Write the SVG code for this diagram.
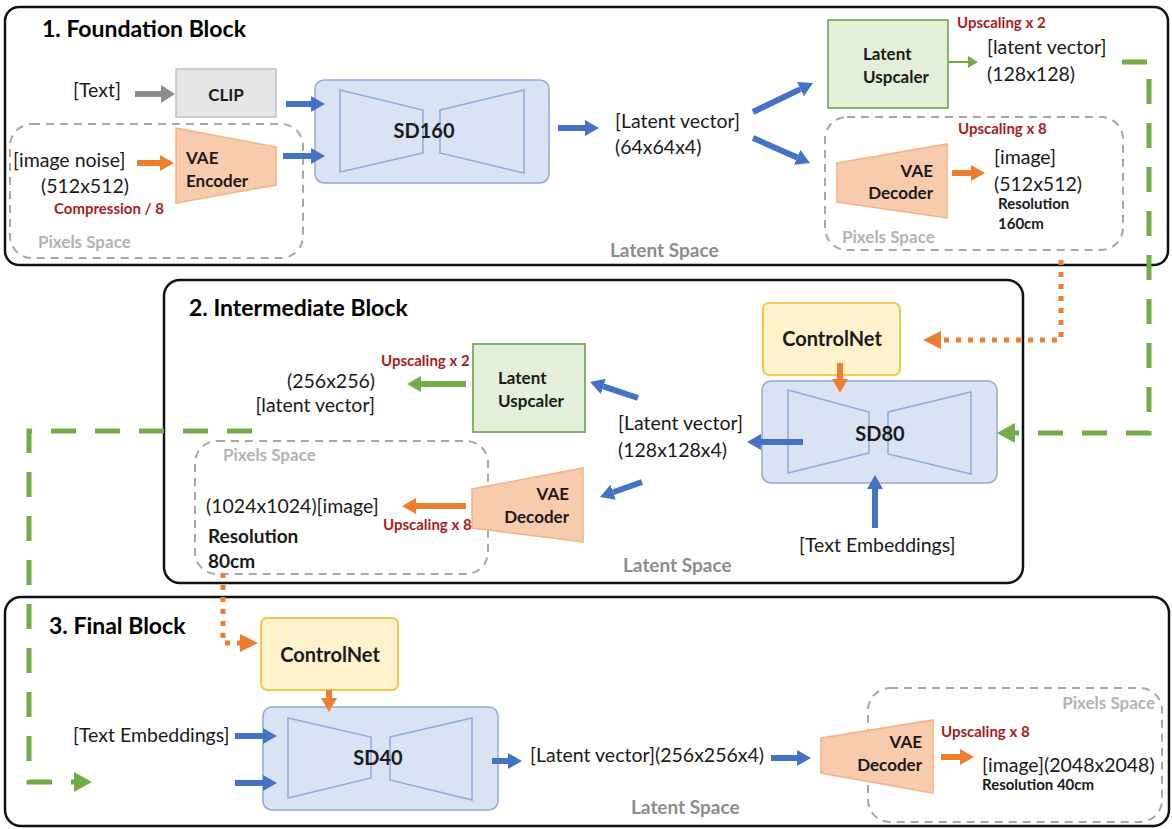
<svg xmlns="http://www.w3.org/2000/svg" width="1172" height="829" viewBox="0 0 1172 829">
<defs>
<style>
text{font-family:Lato,"Liberation Sans",sans-serif;fill:#1a1a1a}
.t{font-size:19.5px}
.b{font-weight:bold}
.title{font-size:23px;font-weight:bold;fill:#000}
.node{font-size:17px;font-weight:bold}
.big{font-size:20px;font-weight:bold}
.red{font-size:15px;font-weight:bold;fill:#a81d1d}
.px{font-size:17px;font-weight:bold;fill:#b3b3b3}
.ls{font-size:19px;font-weight:bold;fill:#8c8c8c}
.blk{fill:#fff;stroke:#111;stroke-width:2.5}
.dash{fill:none;stroke:#a6a6a6;stroke-width:2;stroke-dasharray:8 6}
.sd{fill:#dae3f3;stroke:#8faadc;stroke-width:1.5}
.trap{fill:none;stroke:#8faadc;stroke-width:1.5}
.up{fill:#e2f0d9;stroke:#82b366;stroke-width:2}
.vae{fill:#f8cbad;stroke:#f4b183;stroke-width:1.5}
.cn{fill:#fff2cc;stroke:#f2c94c;stroke-width:2}
.clip{fill:#e7e6e6;stroke:#c0c0c0;stroke-width:1.5}
.ab{fill:none;stroke:#4472c4;stroke-width:6;marker-end:url(#hb)}
.ao{fill:none;stroke:#ed7d31;stroke-width:6;marker-end:url(#ho)}
.ag{fill:none;stroke:#8c8c8c;stroke-width:6;marker-end:url(#hg)}
.agr{fill:none;stroke:#70ad47;stroke-width:6;marker-end:url(#hgr)}
.agt{fill:none;stroke:#70ad47;stroke-width:2;marker-end:url(#hgt)}
.dot{fill:none;stroke:#ed7d31;stroke-width:5;stroke-dasharray:5 7;marker-end:url(#hod)}
.gd{fill:none;stroke:#70ad47;stroke-width:5;stroke-dasharray:25 19;marker-end:url(#hgd)}
</style>
<marker id="hb" viewBox="0 0 14 16" refX="0" refY="8" markerWidth="14" markerHeight="16" markerUnits="userSpaceOnUse" orient="auto"><path d="M0,0 L14,8 L0,16 z" fill="#4472c4"/></marker>
<marker id="ho" viewBox="0 0 14 16" refX="0" refY="8" markerWidth="14" markerHeight="16" markerUnits="userSpaceOnUse" orient="auto"><path d="M0,0 L14,8 L0,16 z" fill="#ed7d31"/></marker>
<marker id="hg" viewBox="0 0 14 18" refX="0" refY="9" markerWidth="14" markerHeight="18" markerUnits="userSpaceOnUse" orient="auto"><path d="M0,0 L14,9 L0,18 z" fill="#8c8c8c"/></marker>
<marker id="hgr" viewBox="0 0 14 16" refX="0" refY="8" markerWidth="14" markerHeight="16" markerUnits="userSpaceOnUse" orient="auto"><path d="M0,0 L14,8 L0,16 z" fill="#70ad47"/></marker>
<marker id="hgt" viewBox="0 0 10 12" refX="0" refY="6" markerWidth="10" markerHeight="12" markerUnits="userSpaceOnUse" orient="auto"><path d="M0,0 L10,6 L0,12 z" fill="#70ad47"/></marker>
<marker id="hod" viewBox="0 0 18 18" refX="0" refY="9" markerWidth="18" markerHeight="18" markerUnits="userSpaceOnUse" orient="auto"><path d="M0,0 L18,9 L0,18 z" fill="#ed7d31"/></marker>
<marker id="hgd" viewBox="0 0 18 20" refX="0" refY="10" markerWidth="18" markerHeight="20" markerUnits="userSpaceOnUse" orient="auto"><path d="M0,0 L18,10 L0,20 z" fill="#70ad47"/></marker>
</defs>
<rect width="1172" height="829" fill="#fff"/>

<g id="block1">
<rect class="blk" x="5" y="7" width="1163" height="258" rx="14"/>
<text class="title" x="42" y="37">1. Foundation Block</text>
<rect class="dash" x="10" y="124" width="293" height="134" rx="22"/>
<text class="px" x="38" y="248">Pixels Space</text>
<rect class="dash" x="825" y="117" width="298" height="133" rx="22"/>
<text class="px" x="842" y="243">Pixels Space</text>
<text class="ls" x="610" y="257">Latent Space</text>
</g>

<g id="text-in">
<text class="t" x="73" y="97">[Text]</text>
</g>
<g id="clip">
<rect class="clip" x="176" y="69" width="100" height="48"/>
<text class="node" x="226" y="101" text-anchor="middle">CLIP</text>
</g>
<g id="image-noise">
<text class="t" x="13" y="167">[image noise]</text>
<text class="t" x="41" y="193">(512x512)</text>
<text class="red" x="54" y="214">Compression / 8</text>
</g>
<g id="vae-encoder">
<polygon class="vae" points="176,128 276,147 276,185 176,203"/>
<text class="node" x="186" y="164">VAE</text>
<text class="node" x="186" y="187">Encoder</text>
</g>
<g id="sd160">
<rect class="sd" x="315" y="80" width="234" height="103" rx="9"/>
<polygon class="trap" points="340,90 423,110 423,153 340,172"/>
<polygon class="trap" points="440,110 524,90 524,173 440,153"/>
<text class="big" x="424" y="138" text-anchor="middle">SD160</text>
</g>
<g id="latent1">
<text class="t" x="615" y="128">[Latent vector]</text>
<text class="t" x="615" y="154">(64x64x4)</text>
</g>
<g id="upscaler1">
<rect class="up" x="828" y="20" width="120" height="88"/>
<text class="node" x="863" y="60">Latent</text>
<text class="node" x="863" y="83">Uspcaler</text>
<text class="red" x="957" y="28">Upscaling x 2</text>
</g>
<g id="latent128">
<text class="t" x="987" y="54">[latent vector]</text>
<text class="t" x="987" y="81">(128x128)</text>
</g>
<g id="decoder1">
<polygon class="vae" points="837,163 947,144 947,218 837,202"/>
<text class="node" x="933" y="177" text-anchor="end">VAE</text>
<text class="node" x="933" y="199" text-anchor="end">Decoder</text>
<text class="red" x="958" y="134">Upscaling x 8</text>
</g>
<g id="image512">
<text class="t" x="994" y="164">[image]</text>
<text class="t" x="994" y="191">(512x512)</text>
<text class="b" x="998" y="209" font-size="15">Resolution</text>
<text class="b" x="998" y="229" font-size="15">160cm</text>
</g>

<g id="block2">
<rect class="blk" x="164" y="280" width="859" height="303" rx="16"/>
<text class="title" x="189" y="316">2. Intermediate Block</text>
<rect class="dash" x="195" y="441" width="293" height="133" rx="22"/>
<text class="px" x="223" y="461">Pixels Space</text>
<text class="ls" x="623" y="572">Latent Space</text>
</g>
<g id="controlnet2">
<rect class="cn" x="763" y="303" width="137" height="72" rx="6"/>
<text class="b" x="832" y="346" font-size="20" text-anchor="middle">ControlNet</text>
</g>
<g id="sd80">
<rect class="sd" x="762" y="381" width="235" height="102" rx="9"/>
<polygon class="trap" points="788,390 869,412 869,453 788,473"/>
<polygon class="trap" points="888,412 971,392 971,474 888,454"/>
<text class="big" x="880" y="441" text-anchor="middle">SD80</text>
</g>
<g id="textemb2">
<text class="t" x="799" y="552">[Text Embeddings]</text>
</g>
<g id="latent2">
<text class="t" x="618" y="430">[Latent vector]</text>
<text class="t" x="618" y="457">(128x128x4)</text>
</g>
<g id="upscaler2">
<rect class="up" x="473" y="344" width="112" height="88"/>
<text class="node" x="498" y="384">Latent</text>
<text class="node" x="498" y="407">Uspcaler</text>
<text class="red" x="381" y="366">Upscaling x 2</text>
</g>
<g id="latent256">
<text class="t" x="375" y="388" text-anchor="end">(256x256)</text>
<text class="t" x="375" y="412" text-anchor="end">[latent vector]</text>
</g>
<g id="decoder2">
<polygon class="vae" points="472,489 583,468 583,542 472,528"/>
<text class="node" x="569" y="500" text-anchor="end">VAE</text>
<text class="node" x="569" y="523" text-anchor="end">Decoder</text>
<text class="red" x="383" y="530">Upscaling x 8</text>
</g>
<g id="image1024">
<text class="t" x="206" y="513">(1024x1024)[image]</text>
<text class="b" x="208" y="543" font-size="19">Resolution</text>
<text class="b" x="208" y="568" font-size="19">80cm</text>
</g>

<g id="block3">
<rect class="blk" x="5" y="597" width="1164" height="229" rx="16"/>
<text class="title" x="49" y="634">3. Final Block</text>
<rect class="dash" x="868" y="688" width="294" height="134" rx="22"/>
<text class="px" x="1155" y="709" text-anchor="end">Pixels Space</text>
<text class="ls" x="631" y="814">Latent Space</text>
</g>
<g id="controlnet3">
<rect class="cn" x="261" y="618" width="137" height="72" rx="6"/>
<text class="b" x="330" y="662" font-size="20" text-anchor="middle">ControlNet</text>
</g>
<g id="textemb3">
<text class="t" x="73" y="742">[Text Embeddings]</text>
</g>
<g id="sd40">
<rect class="sd" x="263" y="707" width="235" height="103" rx="9"/>
<polygon class="trap" points="288,718 371,737 371,778 288,798"/>
<polygon class="trap" points="390,737 472,718 472,800 390,780"/>
<text class="big" x="378" y="765" text-anchor="middle">SD40</text>
</g>
<g id="latent3">
<text class="t" x="530" y="762">[Latent vector](256x256x4)</text>
</g>
<g id="decoder3">
<polygon class="vae" points="821,738 933,720 933,793 821,773"/>
<text class="node" x="922" y="748" text-anchor="end">VAE</text>
<text class="node" x="922" y="771" text-anchor="end">Decoder</text>
<text class="red" x="941" y="737">Upscaling x 8</text>
</g>
<g id="image2048">
<text class="t" x="982" y="772">[image](2048x2048)</text>
<text class="b" x="982" y="790" font-size="15">Resolution 40cm</text>
</g>

<g id="connectors">
<path class="ag" d="M135,94 H161"/>
<path class="ao" d="M137,163 H160"/>
<path class="ab" d="M286,104 H311"/>
<path class="ab" d="M283,156 H311"/>
<path class="ab" d="M558,128 H585"/>
<path class="ab" d="M753,112 L800.4,89.1"/>
<path class="ab" d="M753,138 L797.2,157.4"/>
<path class="agt" d="M948,62 H968"/>
<path class="ao" d="M952,173 H971"/>
<path class="gd" d="M1122,62 H1149 V433 H1015"/>
<path class="dot" d="M1061,260 V340 H941"/>
<path class="ao" d="M840,363 V379"/>
<path class="ab" d="M803,442 H761"/>
<path class="ab" d="M638,398 L603.3,386.4"/>
<path class="ab" d="M642,482 L613.2,492.3"/>
<path class="ab" d="M875,528 V489"/>
<path class="agr" d="M466,384 H421"/>
<path class="ao" d="M466,506 H416"/>
<path class="gd" d="M252,431 H29 V782 H74"/>
<path class="dot" d="M223,573 V643 H240"/>
<path class="ao" d="M329,690 V698"/>
<path class="ab" d="M235,736 H263"/>
<path class="ab" d="M235,783 H263"/>
<path class="ab" d="M492,761 H508"/>
<path class="ab" d="M771,758 H797"/>
<path class="ao" d="M941,757 H960"/>
</g>
</svg>
